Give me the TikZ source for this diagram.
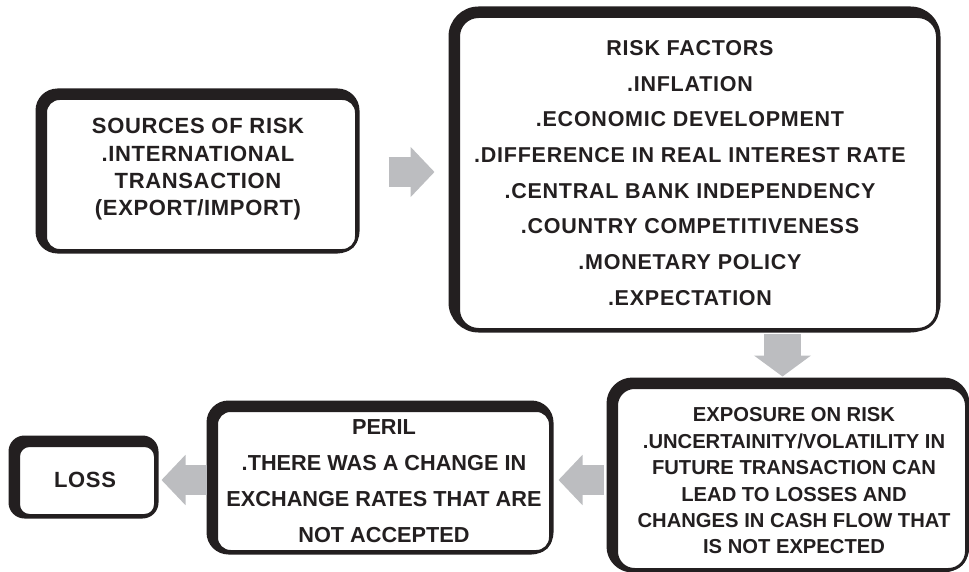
\documentclass[tikz,border=0pt]{standalone}
\usepackage{fontspec}
\setmainfont{Liberation Sans}
\newfontfamily\trackA[LetterSpace=3]{Liberation Sans}
\newfontfamily\trackB[LetterSpace=3.5]{Liberation Sans}
\usetikzlibrary{arrows.meta,calc,backgrounds}
\definecolor{ink}{HTML}{231F20}
\definecolor{arrowgray}{HTML}{BCBDC0}
\tikzset{
  box/.style={draw=ink, line width=3pt, fill=white, rounded corners=#1, inner sep=0pt},
  box/.default=16pt,
  rim/.style={fill=ink, rounded corners=#1},
  txt/.style={text=ink, align=center, inner sep=0pt},
  blockarrow/.style={draw=arrowgray, line width=30pt, -{Triangle[length=24pt, width=49pt]}},
  downarrow/.style={draw=arrowgray, line width=37pt, -{Triangle[length=21pt, width=56pt]}}
}
\newcommand\rimbox[2]{\fill[rim=#2] ($(#1.north west)+(-8.5,-8.5)$) rectangle ($(#1.south east)+(1.5,1.5)$);}
\begin{document}
\begin{tikzpicture}[x=1pt,y=-1pt]
\useasboundingbox (0,0) rectangle (969,572);
% boxes
\node[box=14pt, minimum width=311pt, minimum height=152pt] (src) at (201,174.5) {};
\node[box=20pt, minimum width=479pt, minimum height=313pt] (risk) at (698,173) {};
\node[box=18pt, minimum width=350pt, minimum height=182pt] (exp) at (791.5,478.5) {};
\node[box=14pt, minimum width=334pt, minimum height=141pt] (peril) at (383.5,481) {};
\node[box=11pt, minimum width=137pt, minimum height=70pt] (loss) at (87,480.5) {};
\begin{scope}[on background layer]
  \rimbox{src}{22pt}
  \rimbox{risk}{30pt}
  \rimbox{exp}{26pt}
  \rimbox{peril}{22pt}
  \rimbox{loss}{16pt}
\end{scope}
% texts
\node[txt, font={\trackA\bfseries\fontsize{22pt}{27.3pt}\selectfont}] (srcT) at (198,169.5)
  {SOURCES OF RISK\\.INTERNATIONAL\\TRANSACTION\\(EXPORT/IMPORT)};
\node[txt, font={\trackB\bfseries\fontsize{21.5pt}{35.7pt}\selectfont}] (riskT) at (690,173)
  {RISK FACTORS\\.INFLATION\\.ECONOMIC DEVELOPMENT\\.DIFFERENCE IN REAL INTEREST RATE\\.CENTRAL BANK INDEPENDENCY\\.COUNTRY COMPETITIVENESS\\.MONETARY POLICY\\.EXPECTATION};
\node[txt, font={\bfseries\fontsize{20.2pt}{26.4pt}\selectfont}] (expT) at (794,481)
  {EXPOSURE ON RISK\\.UNCERTAINITY/VOLATILITY IN\\FUTURE TRANSACTION CAN\\LEAD TO LOSSES AND\\CHANGES IN CASH FLOW THAT\\IS NOT EXPECTED};
\node[txt, font={\bfseries\fontsize{21.7pt}{36pt}\selectfont}] (perilT) at (384,481)
  {PERIL\\.THERE WAS A CHANGE IN\\EXCHANGE RATES THAT ARE\\NOT ACCEPTED};
\node[txt, font={\trackA\bfseries\fontsize{22pt}{25pt}\selectfont}] (lossT) at (85,480) {LOSS};
% arrows
\draw[blockarrow] ($(src.east |- risk.west)+(30.5,-1)$) -- ($(risk.west)+(-22.5,-1)$);
\draw[downarrow] ($(exp.north)+(-9,-52.5)$) -- ($(exp.north)+(-9,-9.5)$);
\draw[blockarrow] ($(exp.west |- 0,480)+(-11.5,0)$) -- ($(peril.east |- 0,480)+(6.5,0)$);
\draw[blockarrow] ($(peril.west |- 0,480)+(-8.5,0)$) -- ($(loss.east |- 0,480)+(4.5,0)$);
\end{tikzpicture}
\end{document}
